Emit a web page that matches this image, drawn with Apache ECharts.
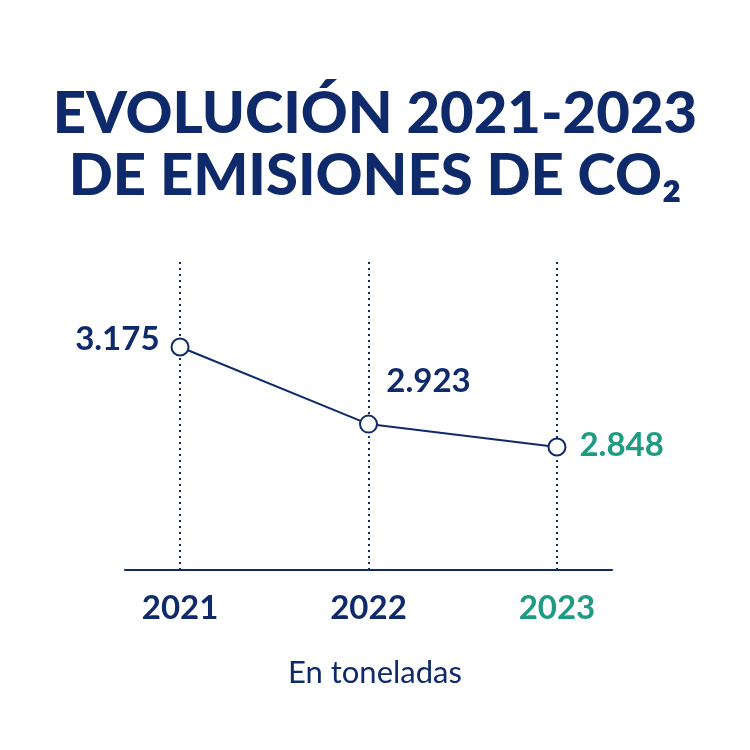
<!DOCTYPE html>
<html><head><meta charset="utf-8">
<script src="https://cdn.jsdelivr.net/npm/echarts@6/dist/echarts.min.js"></script>
<style>html,body{margin:0;background:#fff}#c{width:750px;height:750px}</style>
</head><body><div id="c"></div>
<script>
var years = [2021, 2022, 2023];
var emissions = [3175, 2923, 2848];
var labels = ['3.175', '2.923', '2.848'];
var navy = '#0e2a6b', teal = '#1f9a83';
var chart = echarts.init(document.getElementById('c'));
var labelPos = [['left', [-6, -8]], ['top', [60, -12]], ['right', [8, -2]]];
chart.setOption({
  animation: false,
  title: {
    text: 'EVOLUCIÓN 2021-2023\nDE EMISIONES DE CO₂',
    left: 'center', top: 78,
    textStyle: { fontFamily: 'Lato', fontWeight: 900, fontSize: 58, lineHeight: 62, color: navy }
  },
  graphic: [{ type: 'text', left: 'center', top: 657,
    style: { text: 'En toneladas', fontFamily: 'Lato', fontSize: 31, fill: navy } }],
  grid: { left: 125, right: 138, top: 262, bottom: 180 },
  xAxis: {
    type: 'value', min: 2020.708, max: 2023.292,
    axisLine: { show: true, lineStyle: { color: navy, width: 2 } },
    axisTick: { show: false }, splitLine: { show: false },
    axisLabel: {
      customValues: years, margin: 22,
      formatter: function (v) { return v === 2023 ? '{t|' + v + '}' : '{n|' + v + '}'; },
      rich: {
        n: { fontFamily: 'Lato', fontWeight: 'bold', fontSize: 33, color: navy },
        t: { fontFamily: 'Lato', fontWeight: 'bold', fontSize: 33, color: teal }
      }
    }
  },
  yAxis: { type: 'value', min: 2446, max: 3453, show: false, splitLine: { show: false } },
  series: [{
    type: 'line', data: [], z: 1,
    markLine: {
      silent: true, symbol: 'none', label: { show: false },
      lineStyle: { type: [2, 4], color: navy, width: 2 },
      data: years.map(function (y) { return { xAxis: y }; })
    }
  }, {
    type: 'line', z: 5,
    data: years.map(function (y, i) {
      return { value: [y, emissions[i]],
        label: { position: labelPos[i][0], offset: labelPos[i][1], color: i === 2 ? teal : navy } };
    }),
    lineStyle: { color: navy, width: 2 },
    symbol: 'circle', symbolSize: 17,
    itemStyle: { color: '#fff', borderColor: navy, borderWidth: 2 },
    label: { show: true, fontFamily: 'Lato', fontWeight: 'bold', fontSize: 33,
      formatter: function (p) { return labels[p.dataIndex]; } }
  }]
});
</script></body></html>
